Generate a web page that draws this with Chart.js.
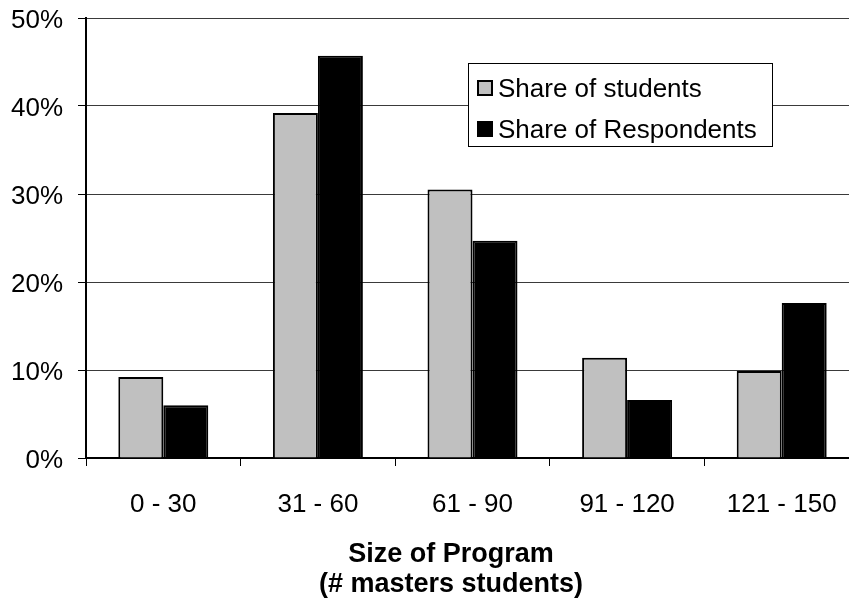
<!DOCTYPE html>
<html>
<head>
<meta charset="utf-8">
<script src="https://cdn.jsdelivr.net/npm/chart.js@4/dist/chart.umd.min.js"></script>
<style>
  html, body { margin: 0; padding: 0; overflow: hidden; background: #fff; }
  #wrap { width: 862px; height: 605px; }
</style>
</head>
<body>
<div id="wrap"><canvas id="c" width="862" height="605"></canvas></div>
<script>
// Program size bands (number of masters students)
const categories = ['0 - 30', '31 - 60', '61 - 90', '91 - 120', '121 - 150'];
// Percent of all students in each band
const shareOfStudents = [9.2, 39.2, 30.5, 11.4, 9.9];
// Percent of survey respondents in each band
const shareOfRespondents = [6.0, 45.7, 24.7, 6.6, 17.6];
const seriesNames = ['Share of students', 'Share of Respondents'];
const yTickValues = [0, 10, 20, 30, 40, 50];
const axisTitleLines = ['Size of Program', '(# masters students)'];

const FONT = "'Liberation Sans', Arial, Helvetica, sans-serif";

// Boxed legend placed inside the plot, upper right
const boxLegend = {
  id: 'boxLegend',
  afterDraw(chart) {
    const ctx = chart.ctx;
    const x0 = 468, y0 = 63, w = 304, h = 83;
    ctx.save();
    ctx.fillStyle = '#fff';
    ctx.fillRect(x0, y0, w, h);
    ctx.strokeStyle = '#000';
    ctx.lineWidth = 1;
    ctx.strokeRect(x0 + 0.5, y0 + 0.5, w, h);
    ctx.font = '26px ' + FONT;
    ctx.textBaseline = 'middle';
    ctx.textAlign = 'left';
    chart.data.datasets.forEach((ds, i) => {
      const cy = 89 + i * 41;
      ctx.fillStyle = ds.backgroundColor;
      ctx.fillRect(477, cy - 9, 16, 16);
      ctx.strokeStyle = '#000';
      ctx.lineWidth = 2;
      ctx.strokeRect(478, cy - 8, 14, 14);
      ctx.fillStyle = '#000';
      ctx.fillText(ds.label, 498, cy + 1);
    });
    ctx.restore();
  }
};

// Two-line bold title under the category axis
const xAxisTitle = {
  id: 'xAxisTitle',
  afterDraw(chart) {
    const ctx = chart.ctx;
    ctx.save();
    ctx.font = 'bold 27px ' + FONT;
    ctx.fillStyle = '#000';
    ctx.textAlign = 'center';
    ctx.textBaseline = 'alphabetic';
    axisTitleLines.forEach((line, i) => {
      ctx.fillText(line, 451, 562 + i * 30);
    });
    ctx.restore();
  }
};

new Chart(document.getElementById('c'), {
  type: 'bar',
  data: {
    labels: categories,
    datasets: [
      {
        label: seriesNames[0],
        data: shareOfStudents,
        backgroundColor: '#c0c0c0',
        borderColor: '#000',
        borderWidth: 2,
        categoryPercentage: 0.582,
        barPercentage: 1.0
      },
      {
        label: seriesNames[1],
        data: shareOfRespondents,
        backgroundColor: '#000',
        borderColor: '#000',
        borderWidth: 2,
        categoryPercentage: 0.582,
        barPercentage: 1.0
      }
    ]
  },
  options: {
    responsive: false,
    maintainAspectRatio: false,
    animation: false,
    layout: { padding: { top: 18, right: 3, left: 0, bottom: 0 } },
    plugins: {
      legend: { display: false },
      tooltip: { enabled: false },
      title: { display: false }
    },
    scales: {
      x: {
        grid: {
          display: true,
          drawOnChartArea: false,
          drawTicks: true,
          tickLength: 8,
          color: '#000',
          offset: true
        },
        border: { display: true, color: '#000', width: 2 },
        ticks: {
          color: '#000',
          font: { family: FONT, size: 26 },
          padding: 23,
          maxRotation: 0,
          autoSkip: false
        },
        afterFit(scale) {
          scale.height = 147;
          scale.paddingLeft = 0;
          scale.paddingRight = 0;
        }
      },
      y: {
        min: 0,
        max: 50,
        afterBuildTicks(scale) {
          scale.ticks = yTickValues.map(v => ({ value: v }));
        },
        grid: {
          color: '#3a3a3a',
          lineWidth: 1,
          drawTicks: true,
          tickLength: 8,
          tickColor: '#000'
        },
        border: { display: true, color: '#000', width: 2 },
        ticks: {
          color: '#000',
          font: { family: FONT, size: 26 },
          padding: 15,
          labelOffset: 3,
          callback: v => v + '%'
        },
        afterFit(scale) {
          scale.width = 86;
          scale.paddingTop = 0;
          scale.paddingBottom = 0;
        }
      }
    }
  },
  plugins: [boxLegend, xAxisTitle]
});
</script>
</body>
</html>
